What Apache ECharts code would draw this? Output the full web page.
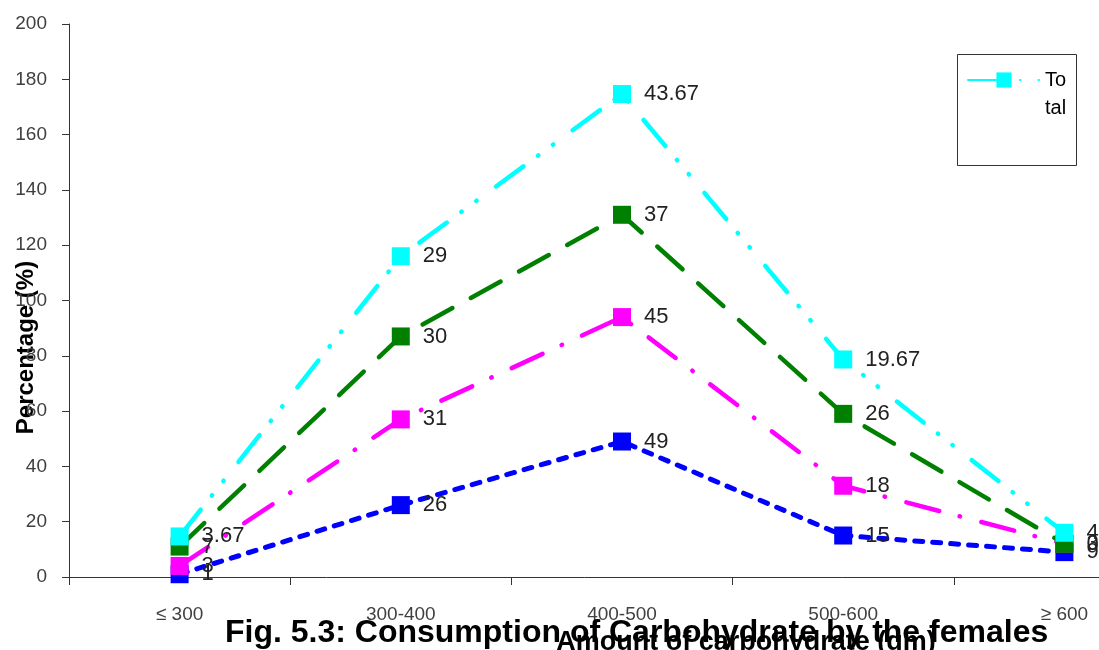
<!DOCTYPE html>
<html>
<head>
<meta charset="utf-8">
<script src="https://cdn.jsdelivr.net/npm/echarts@6/dist/echarts.min.js"></script>
<style>
  html, body { margin: 0; padding: 0; background: #ffffff; }
  #chart { width: 1099px; height: 650px; }
</style>
</head>
<body>
<div id="chart"></div>
<script>
// Intake classes (gm of carbohydrate per day)
const categories = ['\u2264 300', '300-400', '400-500', '500-600', '\u2265 600'];

// Percentage of females in each intake class
const groupI   = [1, 26, 49, 15, 9];
const groupII  = [3, 31, 45, 18, 3];
const groupIII = [7, 30, 37, 26, 0];
const total    = [3.67, 29, 43.67, 19.67, 4];

const yTicks = { min: 0, max: 200, interval: 20 };

const FONT = 'Liberation Sans, Arial, sans-serif';

function lineSeries(name, data, color, dash, width) {
  return {
    name: name,
    type: 'line',
    stack: 'all',
    data: data,
    symbol: 'rect',
    symbolSize: 18,
    showAllSymbol: true,
    lineStyle: { color: color, width: width, type: dash, cap: 'round' },
    itemStyle: { color: color },
    label: {
      show: true,
      position: 'right',
      distance: 13,
      color: '#222222',
      fontSize: 22,
      fontFamily: FONT
    },
    emphasis: { disabled: true },
    animation: false
  };
}

const chart = echarts.init(document.getElementById('chart'), null, { renderer: 'canvas' });

chart.setOption({
  backgroundColor: '#ffffff',
  animation: false,
  title: {
    text: 'Fig. 5.3: Consumption of Carbohydrate by the females',
    left: 225,
    top: 617,
    padding: 0,
    textStyle: { fontFamily: FONT, fontSize: 32, fontWeight: 'bold', color: '#000000' }
  },
  legend: {
    data: ['Total'],
    left: 967,
    top: 38,
    padding: 0,
    itemWidth: 72,
    itemHeight: 19,
    // leading blank line keeps the first word level with the icon
    formatter: '\nTo\ntal',
    textStyle: {
      fontFamily: FONT,
      fontSize: 20,
      lineHeight: 28,
      color: '#000000'
    }
  },
  graphic: [{
    type: 'rect',
    left: 955,
    top: 52,
    shape: { width: 119, height: 111 },
    style: { fill: 'none', stroke: '#333333', lineWidth: 1 },
    silent: true
  }],
  grid: { left: 69, top: 24, bottom: 73, width: 1106, outerBoundsMode: 'none', containLabel: false },
  xAxis: {
    type: 'category',
    data: categories,
    boundaryGap: true,
    name: 'Amount of carbohydrate (gm)',
    nameLocation: 'middle',
    nameGap: 52,
    nameMoveOverlap: false,
    nameTextStyle: {
      fontFamily: FONT, fontSize: 27, fontWeight: 'bold', color: '#000000',
      padding: [0, 0, 0, 248]
    },
    axisLine: { lineStyle: { color: '#333333', width: 1 } },
    axisTick: { show: true, length: 8, lineStyle: { color: '#333333' } },
    axisLabel: { margin: 28, fontFamily: FONT, fontSize: 19, color: '#404040' },
    splitLine: { show: false }
  },
  yAxis: {
    type: 'value',
    min: yTicks.min,
    max: yTicks.max,
    interval: yTicks.interval,
    name: 'Percentage (%)',
    nameLocation: 'middle',
    nameGap: 31,
    nameRotate: 90,
    nameMoveOverlap: false,
    nameTextStyle: {
      fontFamily: FONT, fontSize: 24, fontWeight: 'bold', color: '#000000',
      padding: [0, 94, 0, 0]
    },
    axisLine: { show: true, lineStyle: { color: '#333333', width: 1 } },
    axisTick: { show: true, length: 7, lineStyle: { color: '#333333' } },
    axisLabel: { margin: 22, fontFamily: FONT, fontSize: 19, color: '#404040' },
    splitLine: { show: false }
  },
  series: [
    lineSeries('Group I',   groupI,   '#0000ff', [8, 10], 5),
    lineSeries('Group II',  groupII,  '#ff00ff', [34, 21, 0.5, 22], 4.5),
    lineSeries('Group III', groupIII, '#008000', [34, 21], 4.5),
    lineSeries('Total',     total,    '#00ffff', [34, 18, 0.5, 18, 0.5, 24], 4.5)
  ]
});
</script>
</body>
</html>
